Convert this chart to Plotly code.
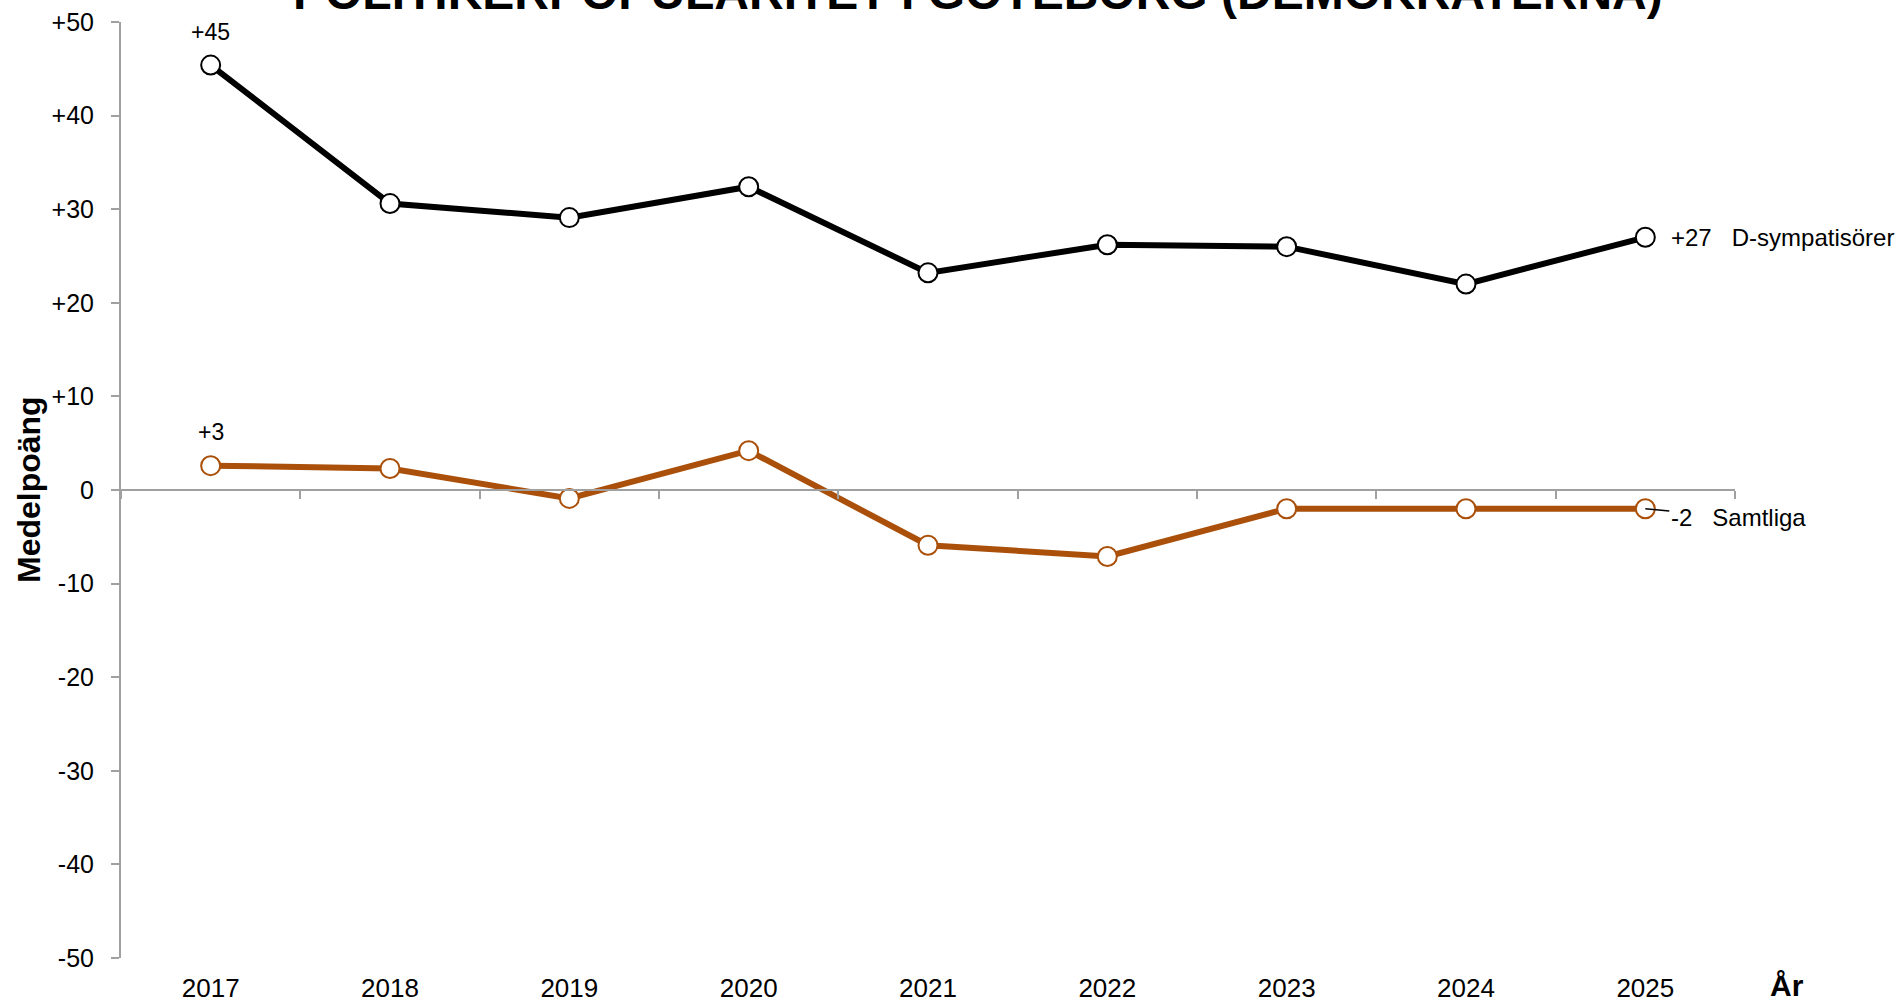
import math
import plotly.graph_objects as go

# ---- data ----
years = ["2017", "2018", "2019", "2020", "2021", "2022", "2023", "2024", "2025"]
d_sympatisorer = [45.4, 30.6, 29.1, 32.4, 23.2, 26.2, 26.0, 22.0, 27.0]
samtliga = [2.6, 2.3, -0.9, 4.2, -5.9, -7.1, -2.0, -2.0, -2.0]
series_names = ["D-sympatisörer", "Samtliga"]
y_ticks = [-50, -40, -30, -20, -10, 0, 10, 20, 30, 40, 50]
y_tick_labels = ["-50", "-40", "-30", "-20", "-10", "0", "+10", "+20", "+30", "+40", "+50"]
title_text = "POLITIKERPOPULARITET I GÖTEBORG (DEMOKRATERNA)"
y_title = "Medelpoäng"
x_title = "År"

FONT = "Liberation Sans, Arial, sans-serif"
BLACK = "#000000"
BROWN = "#AA500A"
GRAY = "#A0A0A0"
NBSP3 = "\u00a0\u00a0\u00a0"


def fmt(v):
    r = int(math.floor(v + 0.5))
    return f"{r:+d}" if r != 0 else "0"


first = 0
last = len(years) - 1

fig = go.Figure()
fig.add_trace(go.Scatter(
    x=years, y=d_sympatisorer, name=series_names[0], mode="lines+markers",
    line=dict(color=BLACK, width=6),
    marker=dict(symbol="circle", size=19, color="white", line=dict(color=BLACK, width=2)),
    xaxis="x", yaxis="y", showlegend=False, cliponaxis=False,
))
fig.add_trace(go.Scatter(
    x=years, y=samtliga, name=series_names[1], mode="lines+markers",
    line=dict(color=BROWN, width=6),
    marker=dict(symbol="circle", size=19, color="white", line=dict(color=BROWN, width=2)),
    xaxis="x2", yaxis="y", showlegend=False, cliponaxis=False,
))

annotations = [
    # first-point labels
    dict(x=first, y=d_sympatisorer[first], xref="x", yref="y", text=fmt(d_sympatisorer[first]),
         showarrow=False, yshift=33, font=dict(size=23, color=BLACK, family=FONT)),
    dict(x=first, y=samtliga[first], xref="x", yref="y", text=fmt(samtliga[first]),
         showarrow=False, yshift=34, font=dict(size=23, color=BLACK, family=FONT)),
    # end labels
    dict(x=last, y=d_sympatisorer[last], xref="x", yref="y",
         text=fmt(d_sympatisorer[last]) + NBSP3 + series_names[0],
         showarrow=False, xanchor="left", xshift=24, yanchor="middle",
         font=dict(size=24, color=BLACK, family=FONT)),
    dict(x=last, y=samtliga[last], xref="x", yref="y",
         text=fmt(samtliga[last]) + NBSP3 + series_names[1],
         showarrow=True, arrowhead=0, arrowwidth=1.5, arrowcolor=BLACK, standoff=0,
         ax=93, ay=9, font=dict(size=24, color=BLACK, family=FONT)),
    # axis titles
    dict(x=-0.057, y=0.5, xref="paper", yref="paper", text=y_title, textangle=-90,
         showarrow=False, xanchor="center", yanchor="middle",
         font=dict(size=32, color=BLACK, family=FONT, weight="bold")),
    dict(x=1.0322, y=-0.0299, xref="paper", yref="paper", text=x_title,
         showarrow=False, xanchor="center", yanchor="middle",
         font=dict(size=30, color=BLACK, family=FONT, weight="bold")),
    # title (cut off at top as in reference)
    dict(x=(978 - 121) / 1614, y=1.0, xref="paper", yref="paper", text=title_text,
         showarrow=False, xanchor="center", yanchor="bottom", yshift=1,
         font=dict(size=48, color=BLACK, family=FONT, weight="bold")),
]

fig.update_layout(
    width=1897, height=1002,
    autosize=False,
    margin=dict(l=121, r=162, t=22, b=44, pad=0, autoexpand=False),
    paper_bgcolor="white", plot_bgcolor="white",
    font=dict(family=FONT, color=BLACK),
    showlegend=False,
    annotations=annotations,
    xaxis=dict(
        type="category", range=[-0.5, 8.5], showline=False, showgrid=False, zeroline=False,
        ticks="outside", ticklen=7, tickcolor="rgba(0,0,0,0)", automargin=False,
        tickfont=dict(size=26, color=BLACK, family=FONT),
    ),
    xaxis2=dict(
        type="category", overlaying="x", matches="x", anchor="free", position=0.5,
        range=[-0.5, 8.5], showline=True, linecolor=GRAY, linewidth=2,
        ticks="outside", tickson="boundaries", ticklen=8, tickwidth=2, tickcolor=GRAY,
        showticklabels=False, showgrid=False, zeroline=False, automargin=False,
    ),
    yaxis=dict(
        range=[-50, 50], tickvals=y_ticks, ticktext=y_tick_labels,
        showline=True, linecolor=GRAY, linewidth=2,
        ticks="outside", ticklen=8, tickwidth=2, tickcolor=GRAY,
        ticklabelstandoff=12,
        tickfont=dict(size=25, color=BLACK, family=FONT),
        showgrid=False, zeroline=False, automargin=False,
    ),
)

fig.write_html(
    "out.html",
    config={"displayModeBar": False},
    post_script="document.body.style.margin='0';document.body.style.overflow='hidden';",
)
